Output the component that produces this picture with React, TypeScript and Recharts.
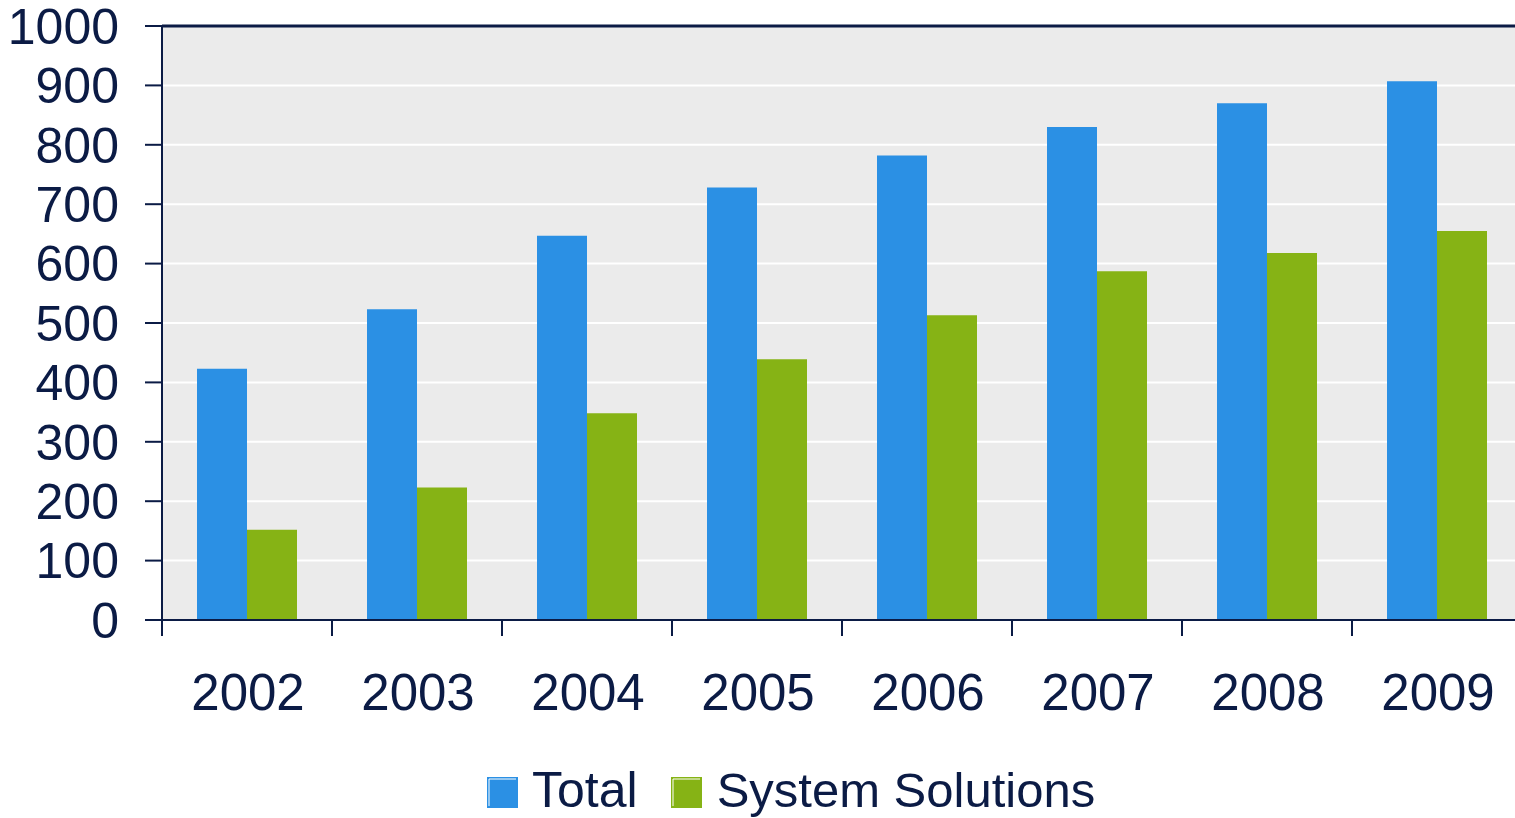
import React from "react";
import {
  BarChart,
  Bar,
  XAxis,
  YAxis,
  CartesianGrid,
  Legend,
  ReferenceLine,
} from "recharts";

const years = ["2002", "2003", "2004", "2005", "2006", "2007", "2008", "2009"];
const totalValues = [423, 523, 647, 728, 782, 830, 870, 907];
const systemValues = [152, 223, 348, 439, 513, 587, 618, 655];
const yTicks = [0, 100, 200, 300, 400, 500, 600, 700, 800, 900, 1000];

const NAVY = "#0B1B45";
const BLUE = "#2B90E4";
const GREEN = "#86B315";
const FONT = "'Liberation Sans', Arial, sans-serif";

// the original plot runs slightly past the right edge of the picture
const W = 1522;
const H = 818;
const Y_AXIS_W = 162;
const BAND = (W - Y_AXIS_W) / years.length;

const data = years.map((year, i) => ({
  year,
  total: totalValues[i],
  system: systemValues[i],
}));

// label at band centre, tick line at the band's left edge
const YearTick = (props: any) => {
  const { x, y, payload } = props;
  const edge = x - BAND / 2;
  return (
    <g>
      <line x1={edge} y1={y} x2={edge} y2={y + 16} stroke={NAVY} strokeWidth={2} />
      <text
        x={x + 1}
        y={y + 90}
        textAnchor="middle"
        fill={NAVY}
        fontSize={51}
        fontFamily={FONT}
      >
        {payload.value}
      </text>
    </g>
  );
};

const LegendBox = ({ color }: { color: string }) => (
  <svg width={31} height={31} style={{ display: "block" }}>
    <rect x={0} y={0} width={31} height={31} fill={color} />
    <polyline points="2,29 2,2 29,2" fill="none" stroke="#fff" strokeWidth={1} />
  </svg>
);

const labelStyle: React.CSSProperties = {
  display: "block",
  lineHeight: "48px",
  height: 48,
};

const ChartLegend = () => (
  <div style={{ height: 50, position: "relative" }}>
    <div
      style={{
        position: "absolute",
        left: 487,
        top: -3,
        height: 50,
        display: "flex",
        alignItems: "center",
        fontFamily: FONT,
        fontSize: 50,
        color: NAVY,
        whiteSpace: "nowrap",
      }}
    >
      <div style={{ display: "flex", alignItems: "center", marginRight: 33 }}>
        <div style={{ position: "relative", top: 2 }}>
          <LegendBox color={BLUE} />
        </div>
        <span style={{ ...labelStyle, marginLeft: 14 }}>Total</span>
      </div>
      <div style={{ display: "flex", alignItems: "center" }}>
        <div style={{ position: "relative", top: 2 }}>
          <LegendBox color={GREEN} />
        </div>
        <span style={{ ...labelStyle, marginLeft: 15, fontSize: 49 }}>
          System Solutions
        </span>
      </div>
    </div>
  </div>
);

export default function App() {
  return (
    <div
      style={{
        position: "absolute",
        left: 0,
        top: 0,
        width: 1515,
        height: H,
        overflow: "hidden",
        background: "#fff",
      }}
    >
      <BarChart
        width={W}
        height={H}
        data={data}
        margin={{ top: 26, right: 0, bottom: 0, left: 0 }}
        barSize={50}
        barGap={0}
      >
        <CartesianGrid
          vertical={false}
          fill="#EBEBEB"
          stroke="#ffffff"
          strokeWidth={2}
        />
        <XAxis
          dataKey="year"
          height={148}
          tickLine={false}
          tickSize={0}
          tickMargin={0}
          axisLine={{ stroke: NAVY, strokeWidth: 2 }}
          tick={<YearTick />}
          interval={0}
        />
        <YAxis
          width={Y_AXIS_W}
          domain={[0, 1000]}
          ticks={yTicks}
          interval={0}
          tickSize={17}
          tickMargin={26}
          tickLine={{ stroke: NAVY, strokeWidth: 2 }}
          axisLine={{ stroke: NAVY, strokeWidth: 2 }}
          tick={{ fill: NAVY, fontSize: 50, fontFamily: FONT }}
        />
        <ReferenceLine y={1000} stroke={NAVY} strokeWidth={3} />
        <Legend verticalAlign="bottom" content={<ChartLegend />} />
        <Bar dataKey="total" name="Total" fill={BLUE} isAnimationActive={false} />
        <Bar
          dataKey="system"
          name="System Solutions"
          fill={GREEN}
          isAnimationActive={false}
        />
      </BarChart>
    </div>
  );
}
